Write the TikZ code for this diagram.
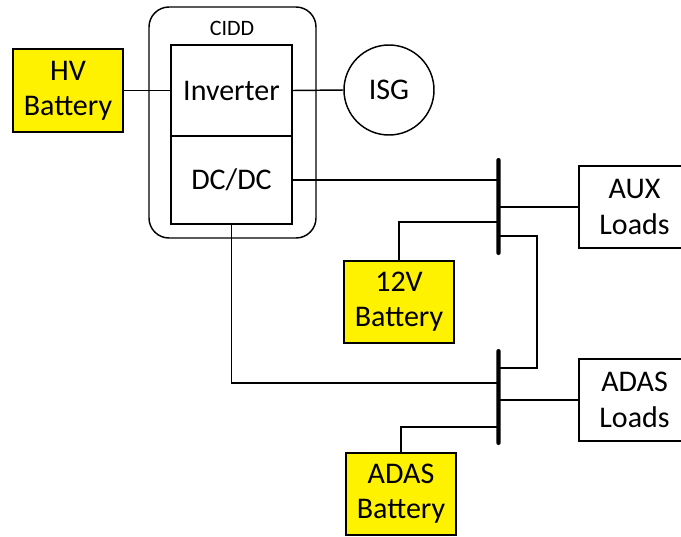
\documentclass[tikz,border=0pt]{standalone}
\usepackage{fontspec}
\setmainfont{Carlito}
\usetikzlibrary{positioning}

\begin{document}
\begin{tikzpicture}[x=0.75pt, y=-0.75pt,
        box/.style={rectangle, draw=black, line width=1.1pt, align=center, inner sep=0pt, minimum width=82.5pt, minimum height=61.5pt, font=\fontsize{22.5}{26.5}\selectfont},
        bat/.style={box, fill=yellow},
        unit/.style={box, minimum width=90.75pt},
        bus/.style={rectangle, fill=black, inner sep=0pt, minimum width=3.3pt, rounded corners=1.6pt},
        wire/.style={line width=1.1pt}
      ]

\useasboundingbox (0,0) rectangle (681,536);

\node[box, minimum width=125.25pt, minimum height=173.25pt, rounded corners=15pt] (cidd) at (232.5,122.5) {};
      \node[font=\fontsize{16.5}{19}\selectfont] (ciddlabel) at (232,28) {CIDD};
      \node[unit, minimum height=68.25pt] (inverter) at (231.5,90.5) {Inverter};
      \node[unit, minimum height=66pt] (dcdc) at (231.5,180) {DC/DC};
      \node[bat, minimum height=62.25pt] (hvbat) at (68,90.5) {HV\\Battery};
      \node[box, circle, minimum size=67.5pt] (isg) at (389,90) {ISG};

\node[bus, minimum height=72.75pt] (bus1) at (498.5,206.5) {};
      \node[bus, minimum height=72pt] (bus2) at (498.5,397) {};

\node[box, minimum width=83.25pt] (auxload) at (634.5,207) {AUX\\Loads};
      \node[box, minimum width=83.25pt] (adasload) at (634.5,400) {ADAS\\Loads};
      \node[bat] (bat12) at (399,302) {12V\\Battery};
      \node[bat] (adasbat) at (401,494) {ADAS\\Battery};

\draw[wire] (hvbat.east) -- (inverter.west);
      \draw[wire] (inverter.east) -- (isg.west);
      \draw[wire] (dcdc.east) -- (dcdc.east -| bus1.center);
      \draw[wire] (auxload.west) -- (auxload.west -| bus1.center);
      \draw[wire] (bat12.north) |- ([yshift=-11.6pt]bus1.center);
      \draw[wire] ([yshift=-22pt]bus1.center) -- ++(38.5,0) |- ([yshift=21.75pt]bus2.center);

\draw[wire] (dcdc.south) |- ([yshift=10.5pt]bus2.center);
      \draw[wire] (adasload.west) -- (adasload.west -| bus2.center);
      \draw[wire] (adasbat.north) |- ([yshift=-22.5pt]bus2.center);

      \end{tikzpicture}
\end{document}
